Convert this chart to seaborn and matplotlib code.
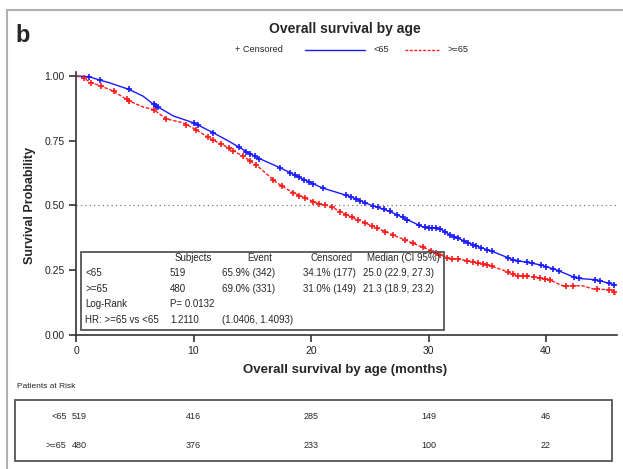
import numpy as np
import matplotlib.pyplot as plt
import seaborn as sns
from matplotlib.lines import Line2D
from matplotlib.patches import Rectangle

# Kaplan-Meier curves
t_young = [0, 1.1, 2.0, 2.8, 4.5, 5.7, 6.6, 8.3, 10.0, 11.7, 13.0, 14.2, 15.3, 17.4, 19.1,
           21.0, 23.3, 25.0, 26.7, 28.2, 29.5, 31.0, 31.8, 33.8, 35.8, 37.2, 39.5, 40.9,
           42.6, 44.3, 45.9]
s_young = [1.0, 0.997, 0.984, 0.974, 0.948, 0.922, 0.89, 0.845, 0.819, 0.78, 0.748, 0.716,
           0.687, 0.645, 0.606, 0.567, 0.535, 0.503, 0.477, 0.445, 0.417, 0.41, 0.387, 0.348,
           0.316, 0.29, 0.271, 0.251, 0.219, 0.213, 0.193]
t_old = [0, 0.7, 1.3, 2.1, 3.2, 4.4, 5.7, 6.6, 7.7, 9.1, 10.2, 11.3, 13.0, 14.2, 15.3, 17.1,
         18.5, 20.5, 21.6, 23.3, 25.6, 27.3, 29.0, 30.4, 31.6, 32.9, 35.0, 36.3, 37.5, 38.6,
         40.3, 41.4, 43.1, 44.0, 45.7, 45.9]
s_old = [1.0, 0.99, 0.974, 0.961, 0.941, 0.906, 0.88, 0.87, 0.834, 0.819, 0.793, 0.761,
         0.722, 0.69, 0.658, 0.587, 0.548, 0.509, 0.497, 0.458, 0.413, 0.38, 0.348, 0.322,
         0.297, 0.29, 0.271, 0.251, 0.228, 0.226, 0.213, 0.19, 0.19, 0.178, 0.174, 0.155]

# censoring times
c_young = [1.1, 2.0, 4.5, 6.6, 6.8, 7.0, 10.0, 10.4, 11.7, 13.9, 14.5, 14.8, 15.2, 15.6, 17.4,
           18.2, 18.6, 19.0, 19.4, 19.8, 20.2, 21.0, 23.0, 23.4, 23.8, 24.2, 24.6, 25.3, 25.7,
           26.2, 26.7, 27.3, 27.8, 28.2, 29.2, 29.7, 30.0, 30.3, 30.6, 31.0, 31.4, 31.8, 32.2,
           32.5, 33.0, 33.4, 33.8, 34.0, 34.5, 35.0, 35.4, 36.8, 37.2, 37.6, 38.4, 38.8, 39.6,
           40.0, 40.6, 41.1, 42.4, 42.8, 44.2, 44.6, 45.4, 45.8]
c_old = [0.7, 1.3, 2.1, 3.2, 4.3, 4.5, 6.6, 7.7, 9.4, 10.2, 11.2, 11.7, 12.3, 13.0, 13.4, 14.2,
         14.8, 15.3, 16.8, 17.5, 18.5, 19.0, 19.5, 20.2, 20.7, 21.2, 21.8, 22.5, 23.0, 23.5,
         24.0, 24.6, 25.2, 25.6, 26.3, 27.0, 28.0, 28.7, 29.5, 30.2, 30.6, 31.0, 31.6, 32.0,
         32.5, 33.3, 33.8, 34.2, 34.6, 35.0, 35.4, 36.8, 37.2, 37.6, 38.0, 38.4, 39.0, 39.5,
         39.9, 40.3, 41.7, 42.3, 44.3, 45.4, 45.8]

# patients at risk
risk_times = [0, 10, 20, 30, 40]
risk_young = [519, 416, 285, 149, 46]
risk_old = [480, 376, 233, 100, 22]

stats_header = ["Subjects", "Event", "Censored", "Median (CI 95%)"]
stats_rows = [["<65", "519", "65.9% (342)", "34.1% (177)", "25.0 (22.9, 27.3)"],
              [">=65", "480", "69.0% (331)", "31.0% (149)", "21.3 (18.9, 23.2)"]]

sns.set_style("white")
plt.rcParams['font.family'] = ['Liberation Sans', 'DejaVu Sans']

W, H = 623, 469
fig = plt.figure(figsize=(W / 100, H / 100), dpi=100)


def fx(x):
    return x / W


def fy(y):
    return 1 - y / H


blue = "#1a1aff"
red = "#ff1a1a"

ax = fig.add_axes([fx(76), fy(335), 540.5 / W, 263 / H])
sns.lineplot(x=t_young, y=s_young, ax=ax, color=blue, lw=1.0,
             estimator=None, sort=False)
sns.lineplot(x=t_old, y=s_old, ax=ax, color=red, lw=1.0,
             estimator=None, sort=False, linestyle=(0, (2.5, 1.2)))

ax.plot(c_young, np.interp(c_young, t_young, s_young), ls="none", marker="+", ms=4.5,
        mew=1.2, color=blue)
ax.plot(c_old, np.interp(c_old, t_old, s_old), ls="none", marker="+", ms=4.5, mew=1.2,
        color=red)

ax.axhline(0.5, color="#777777", lw=0.9, ls=(0, (1, 2.5)))
ax.set_xlim(0, 46)
ax.set_ylim(0, 1.015)
ax.set_xticks([0, 10, 20, 30, 40])
ax.set_yticks([0, 0.25, 0.5, 0.75, 1.0])
ax.set_yticklabels(["0.00", "0.25", "0.50", "0.75", "1.00"])
for s in ["top", "right"]:
    ax.spines[s].set_visible(False)
for s in ["left", "bottom"]:
    ax.spines[s].set_color("#333333")
    ax.spines[s].set_linewidth(1.2)
ax.tick_params(direction="out", length=5, width=1.1, labelsize=7.5, colors="#222222", pad=3,
               left=True, bottom=True)
ax.set_xlabel("")
ax.set_ylabel("")

fig.text(fx(30), fy(205), "Survival Probability", rotation=90, ha="center", va="center",
         fontsize=9, fontweight="bold")
fig.text(fx(345), fy(370), "Overall survival by age (months)", ha="center", va="center",
         fontsize=9.5, fontweight="bold")
fig.text(fx(15), fy(35), "b", ha="left", va="center", fontsize=17, fontweight="bold")
fig.text(fx(345), fy(29), "Overall survival by age", ha="center", va="center",
         fontsize=10, fontweight="bold")

# legend row
fig.text(fx(235), fy(50), "+ Censored", ha="left", va="center", fontsize=6.6)
fig.add_artist(Line2D([fx(305), fx(365)], [fy(50), fy(50)], color=blue, lw=1.0))
fig.text(fx(373), fy(50), "<65", ha="left", va="center", fontsize=6.6)
fig.add_artist(Line2D([fx(405), fx(440)], [fy(50), fy(50)], color=red, lw=1.0,
                      ls=(0, (2, 1.2))))
fig.text(fx(447), fy(50), ">=65", ha="left", va="center", fontsize=6.6)

# stats box
fig.add_artist(Rectangle((fx(81), fy(330)), (444 - 81) / W, (330 - 252) / H,
                         transform=fig.transFigure, fill=False, ec="#555555", lw=1.3))
fs = 7.0
for x, txt in zip([193, 260, 332, 403], stats_header):
    fig.text(fx(x), fy(258), txt, ha="center", va="center", fontsize=fs)
for y, row in zip([273, 289], stats_rows):
    for x, txt in zip([85, 170, 222, 303, 363], row):
        fig.text(fx(x), fy(y), txt, ha="left", va="center", fontsize=fs)
fig.text(fx(85), fy(304), "Log-Rank", ha="left", va="center", fontsize=fs)
fig.text(fx(170), fy(304), "P= 0.0132", ha="left", va="center", fontsize=fs)
fig.text(fx(85), fy(320), "HR: >=65 vs <65", ha="left", va="center", fontsize=fs)
fig.text(fx(170), fy(320), "1.2110", ha="left", va="center", fontsize=fs)
fig.text(fx(222), fy(320), "(1.0406, 1.4093)", ha="left", va="center", fontsize=fs)

# risk table
fig.text(fx(17), fy(386), "Patients at Risk", ha="left", va="center", fontsize=6)
fig.add_artist(Rectangle((fx(15), fy(461)), (612 - 15) / W, (461 - 400) / H,
                         transform=fig.transFigure, fill=False, ec="#555555", lw=1.3))
rax = fig.add_axes([fx(76), fy(461), 540.5 / W, 61 / H])
rax.set_xlim(0, 46)
rax.set_ylim(0, 2)
rax.axis("off")
for yv, lab, counts in [(1.45, "<65", risk_young), (0.5, ">=65", risk_old)]:
    rax.text(-0.8, yv, lab, ha="right", va="center", fontsize=6.5)
    for tt, n in zip(risk_times, counts):
        rax.text(tt + 0.3 * (tt == 0), yv, str(n), ha="center", va="center", fontsize=6.5)

# outer frame
fig.add_artist(Line2D([fx(7), fx(7)], [0, fy(10)], color="#b0b0b0", lw=1.5))
fig.add_artist(Line2D([fx(7), 1], [fy(10), fy(10)], color="#b0b0b0", lw=1.5))

fig.savefig("out.png", dpi=100)
